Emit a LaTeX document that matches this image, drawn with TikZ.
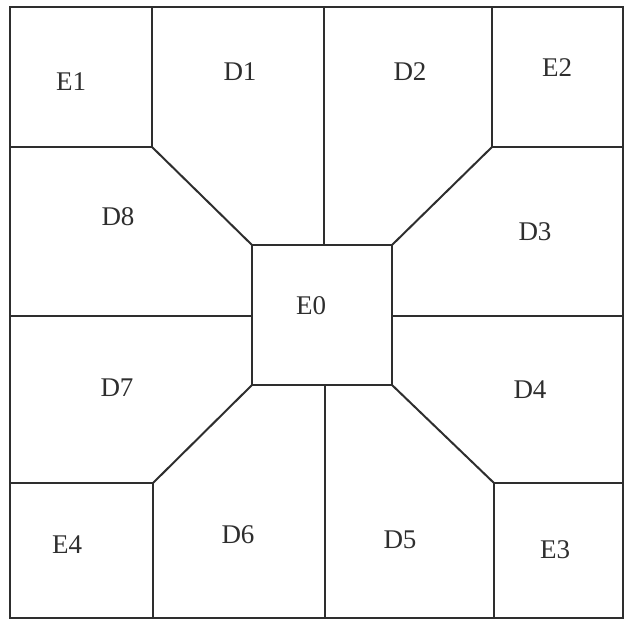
\documentclass[tikz,border=0pt]{standalone}
\usepackage{fontspec}
\setmainfont{Liberation Serif}
\usepackage{xcolor}
\usepackage{tikz}
\usetikzlibrary{positioning}

\definecolor{inkgray}{HTML}{2E2E2E}

\begin{document}
\begin{tikzpicture}[
    x=1pt, y=-1pt,
    wall/.style={draw=inkgray, line width=2pt, line join=miter},
    every node/.style={font=\fontsize{27}{27}\selectfont, text=inkgray},
  ]
  \useasboundingbox (0,0) rectangle (625,619);

  % Corners of the frame and of the middle square
  \coordinate (tl) at (10,7);
  \coordinate (br) at (623,618);
  \coordinate (m1) at (252,245);
  \coordinate (m2) at (392,245);
  \coordinate (m3) at (392,385);
  \coordinate (m4) at (252,385);

  % Corner points of the four outer squares
  \coordinate (c1) at (152,147);
  \coordinate (c2) at (492,147);
  \coordinate (c3) at (494,483);
  \coordinate (c4) at (153,483);

  % Frame and middle square
  \draw[wall] (tl) rectangle (br);
  \draw[wall] (m1) -- (m2) -- (m3) -- (m4) -- cycle;

  % Outer squares
  \draw[wall] (152,7) -- (c1) -- (10,147);
  \draw[wall] (492,7) -- (c2) -- (623,147);
  \draw[wall] (623,483) -- (c3) -- (494,618);
  \draw[wall] (10,483) -- (c4) -- (153,618);

  % Diagonals
  \draw[wall] (c1) -- (m1);
  \draw[wall] (c2) -- (m2);
  \draw[wall] (c3) -- (m3);
  \draw[wall] (c4) -- (m4);

  % Dividers
  \draw[wall] (324,7) -- (324,245);
  \draw[wall] (325,385) -- (325,618);
  \draw[wall] (10,316) -- (252,316);
  \draw[wall] (392,316) -- (623,316);

  % Labels
  \node (e0) at (311,306) {E0};
  \node (e1) at (71,82)   {E1};
  \node (e2) at (557,68)  {E2};
  \node (e3) at (555,550) {E3};
  \node (e4) at (67,545)  {E4};
  \node (d1) at (240,72)  {D1};
  \node (d2) at (410,72)  {D2};
  \node (d3) at (535,232) {D3};
  \node (d4) at (530,390) {D4};
  \node (d5) at (400,540) {D5};
  \node (d6) at (238,535) {D6};
  \node (d7) at (117,388) {D7};
  \node (d8) at (118,217) {D8};

\end{tikzpicture}
\end{document}
